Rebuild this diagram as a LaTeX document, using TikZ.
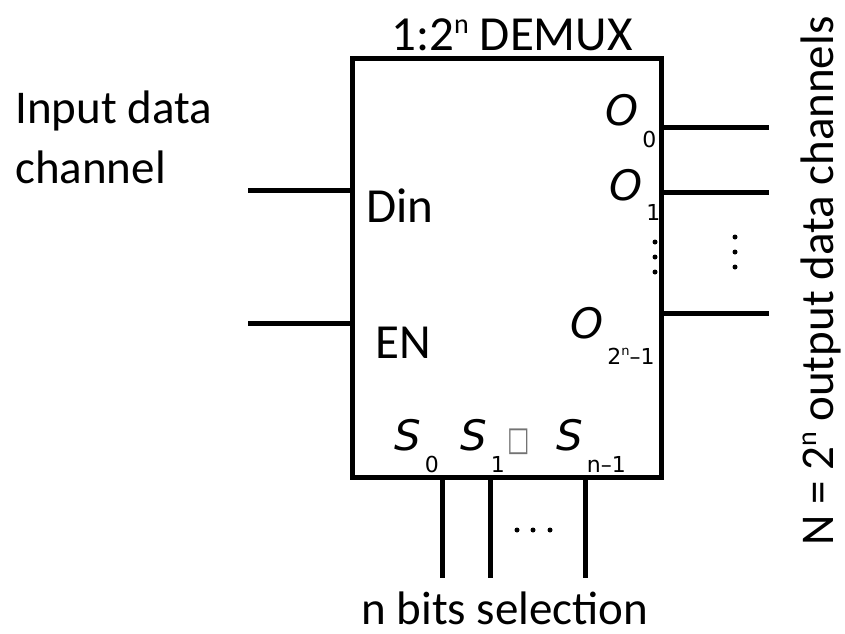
\documentclass[tikz,border=0pt]{standalone}
\usepackage{fontspec}
\setmainfont{Carlito}
\newfontfamily\pinfont{DejaVu Sans}
\usetikzlibrary{positioning}

\tikzset{
  wire/.style={line width=5pt},
  lbl/.style={font=\fontsize{47}{60}\selectfont, inner sep=0pt},
  pinlbl/.style={font=\fontsize{49}{50}\selectfont, inner sep=0pt, anchor=base west}
}
\newcommand{\supn}{\raisebox{17pt}{\fontsize{28}{30}\selectfont n}}
\newcommand{\pinname}[3][22pt]{{\pinfont\fontsize{42}{44}\selectfont\itshape #2}\hspace{4pt}\raisebox{-#1}{\pinfont\fontsize{22}{24}\selectfont #3}}

\begin{document}
\begin{tikzpicture}[x=1pt,y=-1pt]
\useasboundingbox (0,0) rectangle (845,633);

% demux block
\node[draw, line width=5pt, minimum width=309pt, minimum height=419pt, inner sep=0pt] (demux) at (506.5,267.5) {};
\node[lbl, font=\fontsize{49}{50}\selectfont, anchor=base] (title) at (512,50) {1:2\supn{} DEMUX};

% inputs
\coordinate (din) at (248,190);
\coordinate (en) at (248,323);
\draw[wire] (din) -- (din -| demux.west);
\draw[wire] (en) -- (en -| demux.west);
\node[lbl, anchor=base west, align=left] (inlbl) at (15,183) {Input data\\channel};
\node[pinlbl] (dinlbl) at (366,222) {Din};
\node[pinlbl] (enlbl) at (375,358) {EN};

% outputs
\coordinate (o0) at (769,127);
\coordinate (o1) at (769,192);
\coordinate (oN) at (769,313);
\foreach \o in {o0,o1,oN}
  \draw[wire] (\o -| demux.east) -- (\o);
\node[pinlbl] (o0lbl) at (605,125) {\pinname{O}{0}};
\node[pinlbl] (o1lbl) at (609,200) {\pinname[20pt]{O}{1}};
\node[pinlbl] (oNlbl) at (570,338) {\pinname[26pt]{O}{2\raisebox{9pt}{\fontsize{13}{14}\selectfont n}–1}};
\foreach \y in {242,257,272} \fill (655,\y) circle (2.5pt);
\foreach \y in {237,252,267} \fill (735,\y) circle (2.5pt);
\node[lbl, rotate=90, anchor=base] (outlbl) at (833,281) {N = 2\supn{} output data channels};

% select lines
\coordinate (s0) at (442,578);
\coordinate (s1) at (490,578);
\coordinate (sN) at (585,578);
\foreach \s in {s0,s1,sN}
  \draw[wire] (\s |- demux.south) -- (\s);
\node[pinlbl] (s0lbl) at (394,450) {\pinname{S}{0}};
\node[pinlbl] (s1lbl) at (460,450) {\pinname{S}{1}};
\node[pinlbl, font=\fontsize{28}{30}\pinfont, text=black!55] (gaplbl) at (507,450) {\scalebox{0.85}[1.2]{□}};
\node[pinlbl] (sNlbl) at (556,450) {\pinname{S}{n–1}};
\foreach \x in {517,533,550} \fill (\x,530) circle (2.5pt);
\node[lbl, anchor=base] (sellbl) at (505,624) {n bits selection};
\end{tikzpicture}
\end{document}
